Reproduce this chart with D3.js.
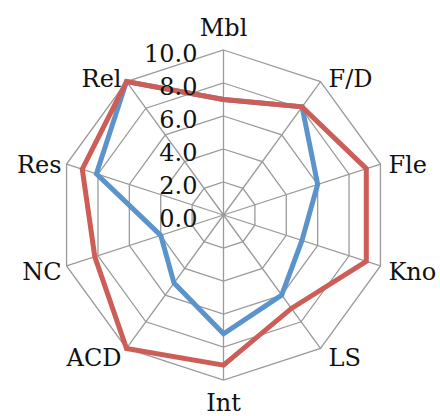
<!DOCTYPE html>
<html>
<head>
<meta charset="utf-8">
<script src="https://cdn.jsdelivr.net/npm/d3@7"></script>
<style>
  html, body { margin: 0; padding: 0; background: #fff; }
  svg { display: block; }
</style>
</head>
<body>
<svg id="chart" width="440" height="416"></svg>
<script>
// ---- data ----
const categories = ["Mbl", "F/D", "Fle", "Kno", "LS", "Int", "ACD", "NC", "Res", "Rel"];
const redValues  = [7.0, 8.1, 9.1, 9.1, 7.0, 9.1, 10.0, 8.2, 9.0, 10.0];
const blueValues = [7.0, 8.1, 6.0, 5.0, 6.0, 7.2, 5.1, 4.0, 8.1, 10.0];
const tickValues = [0, 2, 4, 6, 8, 10];
const tickLabels = ["0.0", "2.0", "4.0", "6.0", "8.0", "10.0"];

// ---- layout ----
const cx = 223.5, cy = 215, R = 165;
const fontSize = 24;
const fontFamily = "DejaVu Serif";

const svg = d3.select("#chart");
const g = svg.append("g").attr("transform", `translate(${cx},${cy})`);

const r = d3.scaleLinear().domain([0, 10]).range([0, R]);
const angle = d3.scalePoint().domain(categories).range([0, 2 * Math.PI * (categories.length - 1) / categories.length]);

const pt = (cat, v) => {
  const a = angle(cat);
  return [r(v) * Math.sin(a), -r(v) * Math.cos(a)];
};

const grid = g.append("g").attr("stroke", "#9a9a9a").attr("stroke-width", 1.3).attr("fill", "none");

tickValues.filter(t => t > 0).forEach(t => {
  grid.append("path").attr("d", d3.line()(categories.map(c => pt(c, t))) + "Z");
});
categories.forEach(c => {
  const p = pt(c, 10);
  grid.append("line").attr("x1", 0).attr("y1", 0).attr("x2", p[0]).attr("y2", p[1]);
});

const radial = d3.lineRadial()
  .angle((d, i) => angle(categories[i]))
  .radius(d => r(d))
  .curve(d3.curveLinearClosed);

g.append("path").datum(blueValues)
  .attr("d", radial).attr("fill", "none")
  .attr("stroke", "#5b93cb").attr("stroke-width", 5).attr("stroke-linejoin", "miter");

g.append("path").datum(redValues)
  .attr("d", radial).attr("fill", "none")
  .attr("stroke", "#cd5d57").attr("stroke-width", 5).attr("stroke-linejoin", "miter");

g.append("g").selectAll("text").data(tickValues).join("text")
  .attr("x", -26)
  .attr("y", d => -r(d) + 11.5)
  .attr("text-anchor", "end")
  .attr("font-family", fontFamily)
  .attr("font-size", fontSize)
  .attr("fill", "#111")
  .text((d, i) => tickLabels[i]);

g.append("g").selectAll("text").data(categories).join("text")
  .attr("font-family", fontFamily)
  .attr("font-size", fontSize)
  .attr("fill", "#111")
  .each(function(c) {
    const a = angle(c);
    const s = Math.sin(a), co = Math.cos(a);
    const [vx, vy] = pt(c, 10);
    const el = d3.select(this);
    if (Math.abs(s) < 0.1) {
      el.attr("text-anchor", "middle").attr("x", vx)
        .attr("y", co > 0 ? vy - 14 : vy + 31);
    } else {
      el.attr("text-anchor", s > 0 ? "start" : "end")
        .attr("x", vx + (s > 0 ? 8 : -5))
        .attr("y", vy + 11.5 - 8 * co);
    }
  })
  .text(c => c);
</script>
</body>
</html>
